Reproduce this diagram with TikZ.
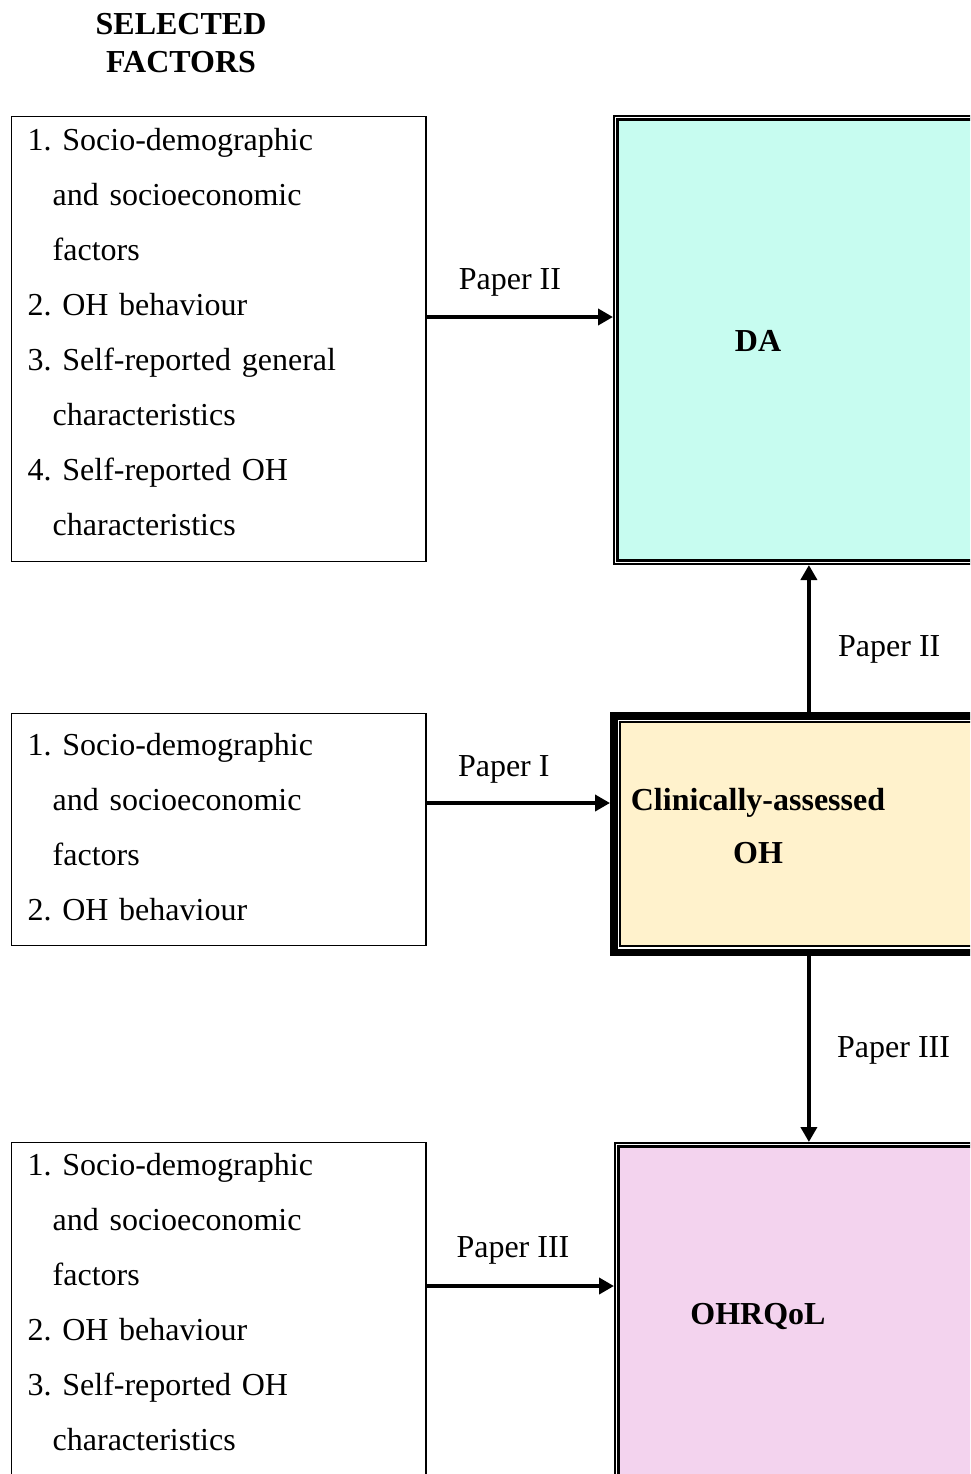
\documentclass[tikz,border=0pt]{standalone}
\usepackage{fontspec}
\setmainfont{Liberation Serif}
\usetikzlibrary{positioning, arrows.meta}
\definecolor{dacyan}{RGB}{199,252,240}
\definecolor{ohcream}{RGB}{255,242,204}
\definecolor{qolpink}{RGB}{243,211,238}
\tikzset{factframe/.style={draw, line width=1.7pt, minimum width=414.5pt, inner sep=0pt}}
\tikzset{factlist/.style={anchor=north west, inner sep=0pt, text width=380pt, align=left, font=\fontsize{32}{55}\selectfont\frenchspacing}}
\tikzset{outcome/.style={draw, line width=2.4pt, double=white, double distance=1.2pt, outer sep=2.8pt, inner sep=0pt}}
\tikzset{boldtext/.style={inner sep=0pt, font=\fontsize{32}{53}\selectfont\bfseries, align=center}}
\tikzset{arr/.style={draw, line width=4.5pt, -{Triangle[length=15pt, width=16pt]}}}
\tikzset{paperlbl/.style={inner sep=0pt, font=\fontsize{32}{38}\selectfont}}
\newcommand{\ind}{\hspace*{25pt}}

\begin{document}
\begin{tikzpicture}[x=1pt, y=-1pt]
	\useasboundingbox (0,0) rectangle (970,1474);
	\clip (0,0) rectangle (970,1474);
	%
	\node[boldtext, font=\fontsize{32}{38}\selectfont\bfseries, anchor=north] (title) at (181,13) {SELECTED\\FACTORS};
	%
	\node[factframe, minimum height=445pt] (sf1) at (218.75,339) {};
	\node[factlist] (sf1list) at (27.5,128.1) {1. Socio-demographic\\ \ind and socioeconomic\\ \ind factors\\ 2. OH behaviour\\ 3. Self-reported general\\ \ind characteristics\\ 4. Self-reported OH\\ \ind characteristics};
	\node[factframe, minimum height=232pt] (sf2) at (218.75,829.5) {};
	\node[factlist] (sf2list) at (27.5,733.1) {1. Socio-demographic\\ \ind and socioeconomic\\ \ind factors\\ 2. OH behaviour};
	\node[factframe, minimum height=357.5pt] (sf3) at (218.75,1321.25) {};
	\node[factlist] (sf3list) at (27.5,1153.1) {1. Socio-demographic\\ \ind and socioeconomic\\ \ind factors\\ 2. OH behaviour\\ 3. Self-reported OH\\ \ind characteristics};
	%
	\node[outcome, fill=dacyan, minimum width=388.2pt, minimum height=444.4pt] (da) at (809.9,340) {};
	\node[boldtext, anchor=base] (datxt) at (758,351.5) {DA};
	\node[draw, line width=7.5pt, fill=ohcream, minimum width=390.25pt, minimum height=236.5pt, inner sep=0pt] (oh) at (808.9,834) {};
	\draw[white, line width=1.7pt] ([shift={(8.35pt,-8.35pt)}]oh.north west) rectangle ([shift={(-8.35pt,8.35pt)}]oh.south east);
	\draw[line width=1.7pt] ([shift={(10.05pt,-10.05pt)}]oh.north west) rectangle ([shift={(-10.05pt,10.05pt)}]oh.south east);
	\node[boldtext, anchor=north] (ohtxt) at (758,788) {Clinically-assessed\\OH};
	\node[outcome, fill=qolpink, minimum width=387.2pt, minimum height=375.2pt] (qol) at (810.4,1332.4) {};
	\node[boldtext, anchor=base] (qoltxt) at (758,1324) {OHRQoL};
	%
	\coordinate (a1) at ([yshift=22pt]sf1.east);
	\coordinate (a2) at ([yshift=26.5pt]sf2.east);
	\coordinate (a3) at ([yshift=35.25pt]sf3.east);
	\draw[arr] (a1) -- (a1 -| da.west)
		node[paperlbl, pos=0.446, above=18.5pt] (lbl1) {Paper II};
	\draw[arr] (a2) -- (a2 -| oh.west)
		node[paperlbl, pos=0.42, above=17.5pt] (lbl2) {Paper I};
	\draw[arr] (a3) -- (a3 -| qol.west)
		node[paperlbl, pos=0.46, above=19.5pt] (lbl3) {Paper III};
	\draw[arr] (oh.north) -- (oh.north |- da.south)
		node[paperlbl, pos=0.425, right=27pt] (lbl4) {Paper II};
	\draw[arr] (oh.south) -- (oh.south |- qol.north)
		node[paperlbl, pos=0.51, right=26pt] (lbl5) {Paper III};
\end{tikzpicture}
\end{document}
